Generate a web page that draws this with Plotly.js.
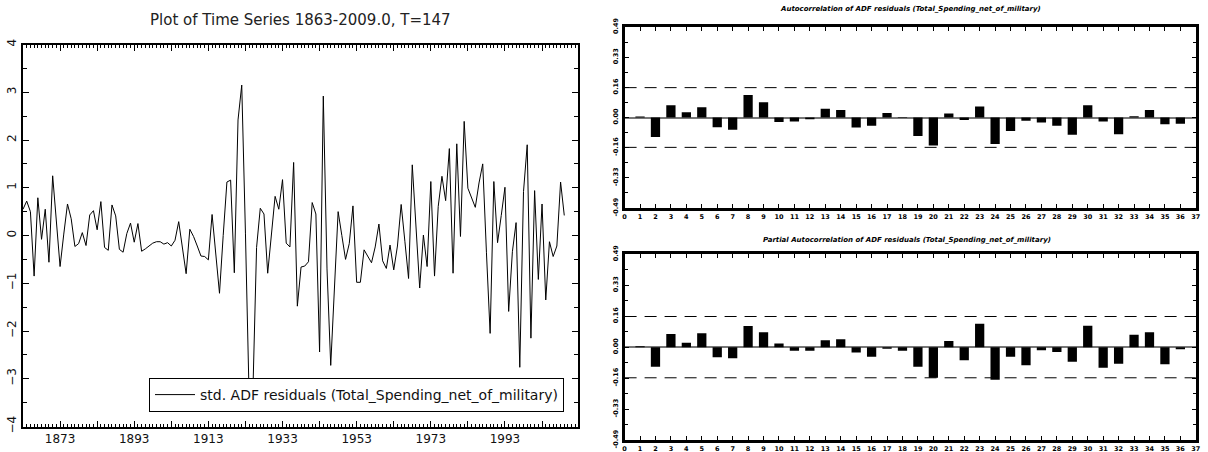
<!DOCTYPE html>
<html>
<head>
<meta charset="utf-8">
<script src="https://cdn.plot.ly/plotly-3.0.1.min.js"></script>
<style>html,body{margin:0;padding:0;background:#fff;}#chart{width:1208px;height:452px;}</style>
</head>
<body>
<div id="chart"></div>
<script>
const startYear = 1863;
const residuals = [
  0.55, 0.72, 0.50, -0.85, 0.79, -0.08, 0.55, -0.56, 1.25, 0.25,
  -0.65, 0.03, 0.66, 0.35, -0.23, -0.17, 0.06, -0.21, 0.43, 0.52,
  0.12, 0.71, -0.25, -0.31, 0.64, 0.41, -0.29, -0.35, 0.04, 0.26,
  -0.14, 0.25, -0.33, -0.28, -0.22, -0.16, -0.13, -0.13, -0.18, -0.15,
  -0.22, -0.10, 0.29, -0.25, -0.80, 0.13, -0.02, -0.22, -0.43, -0.44,
  -0.51, 0.44, -0.39, -1.21, 0.00, 1.12, 1.16, -0.78, 2.42, 3.15,
  0.05, -3.40, -3.30, -0.25, 0.57, 0.45, -0.79, 0.05, 0.82, 0.55,
  1.17, -0.16, -0.24, 1.53, -1.48, -0.66, -0.64, -0.55, 0.69, 0.45,
  -2.44, 2.92, -0.70, -2.72, -1.10, 0.50, 0.00, -0.50, -0.17, 0.62,
  -0.98, -0.98, -0.30, -0.43, -0.57, -0.24, 0.24, -0.53, -0.69, -0.20,
  -0.72, -0.22, 0.65, -0.12, -0.90, 1.48, 0.05, -1.10, 0.01, -0.65,
  1.13, -0.85, 0.61, 1.24, 0.73, 1.82, -0.79, 1.92, -0.02, 2.39,
  0.99, 0.78, 0.59, 1.10, 1.50, -0.35, -2.05, 1.13, -0.15, 0.42,
  1.01, -1.59, -0.34, 0.27, -2.76, 0.92, 1.90, -2.15, 0.94, -0.92,
  0.66, -1.35, -0.13, -0.44, -0.22, 1.12, 0.42
];
const years = residuals.map((_, i) => startYear + i);

const lags = [1,2,3,4,5,6,7,8,9,10,11,12,13,14,15,16,17,18,19,20,21,22,23,24,25,26,27,28,29,30,31,32,33,34,35,36];
const acf = [0.005, -0.105, 0.067, 0.029, 0.056, -0.053, -0.067, 0.122, 0.083, -0.024,
  -0.022, -0.009, 0.047, 0.040, -0.054, -0.045, 0.024, 0.003, -0.100, -0.151,
  0.022, -0.013, 0.060, -0.143, -0.073, -0.018, -0.027, -0.045, -0.094, 0.067,
  -0.022, -0.091, 0.007, 0.040, -0.036, -0.034];
const pacf = [0.005, -0.104, 0.070, 0.023, 0.074, -0.053, -0.058, 0.111, 0.079, 0.019,
  -0.019, -0.019, 0.037, 0.042, -0.028, -0.051, -0.009, -0.019, -0.104, -0.162,
  0.033, -0.069, 0.123, -0.172, -0.051, -0.095, -0.016, -0.025, -0.077, 0.113,
  -0.109, -0.088, 0.065, 0.079, -0.090, -0.011];
const confBand = 0.1617;

const seriesName = 'std. ADF residuals (Total_Spending_net_of_military)';
const mainTitle = 'Plot of Time Series 1863-2009.0, T=147';
const acfTitle = 'Autocorrelation of ADF residuals (Total_Spending_net_of_military)';
const pacfTitle = 'Partial Autocorrelation of ADF residuals (Total_Spending_net_of_military)';

const xMajor = [1863,1873,1883,1893,1903,1913,1923,1933,1943,1953,1963,1973,1983,1993,2003];
const xMajorText = ['','1873','','1893','','1913','','1933','','1953','','1973','','1993',''];
const corrTickVals = [-0.49,-0.3267,-0.1633,0,0.1633,0.3267,0.49];
const corrTickText = ['-0.49','-0.33','-0.16','0.00','0.16','0.33','0.49'];
const lagTickVals = Array.from({length:38}, (_, i) => i);

const W = 1208, H = 452;
const px = (a, b) => [a / W, b / W];
const py = (top, bottom) => [(H - bottom) / H, (H - top) / H];

const leftFont = {family: 'DejaVu Sans', size: 12, color: '#111'};
const smallBold = {family: 'DejaVu Sans', size: 6.5, color: '#000', weight: 'bold'};

const traces = [
  {x: years, y: residuals, type: 'scatter', mode: 'lines', name: seriesName,
   line: {color: '#000', width: 1}, xaxis: 'x', yaxis: 'y', showlegend: true},
  {x: lags, y: acf, type: 'bar', width: 0.6, marker: {color: '#000'},
   xaxis: 'x2', yaxis: 'y2', showlegend: false},
  {x: lags, y: pacf, type: 'bar', width: 0.6, marker: {color: '#000'},
   xaxis: 'x3', yaxis: 'y3', showlegend: false}
];

function corrX(anchor) {
  return {domain: px(624.6, 1195.8), anchor: anchor, range: [0, 37],
    tickmode: 'array', tickvals: lagTickVals, ticktext: lagTickVals.map(String),
    ticks: 'inside', ticklen: 4, tickwidth: 1, tickcolor: '#000',
    showline: true, linewidth: 3, linecolor: '#000', mirror: 'allticks',
    showgrid: false, zeroline: false, tickfont: smallBold, ticklabelstandoff: 0};
}
function corrY(anchor, dom) {
  return {domain: dom, anchor: anchor, range: [-0.49, 0.49],
    tickmode: 'array', tickvals: corrTickVals, ticktext: corrTickText, tickangle: -90,
    ticks: 'inside', ticklen: 4, tickwidth: 1, tickcolor: '#000',
    minor: {tickmode: 'linear', tick0: 0, dtick: 0.49/6, ticks: 'inside', ticklen: 3, tickcolor: '#000'},
    showline: true, linewidth: 3, linecolor: '#000', mirror: 'allticks',
    showgrid: false, zeroline: true, zerolinecolor: '#777', zerolinewidth: 2,
    tickfont: smallBold, ticklabelstandoff: 1};
}

const layout = {
  width: W, height: H,
  margin: {l: 0, r: 0, t: 0, b: 0},
  paper_bgcolor: '#fff', plot_bgcolor: '#fff',
  showlegend: true,
  legend: {x: 564/W, xanchor: 'right', y: (H-412)/H, yanchor: 'bottom',
    bordercolor: '#000', borderwidth: 1, bgcolor: '#fff', itemwidth: 40,
    font: {family: 'DejaVu Sans', size: 14, color: '#111'}},
  xaxis: {domain: px(23, 578), anchor: 'y', range: [1863, 2012.7],
    tickmode: 'array', tickvals: xMajor, ticktext: xMajorText,
    ticks: 'inside', ticklen: 6, tickwidth: 1, tickcolor: '#000',
    minor: {tickmode: 'linear', tick0: 1863, dtick: 1, ticks: 'inside', ticklen: 3, tickcolor: '#000'},
    showline: true, linewidth: 2, linecolor: '#000', mirror: 'allticks',
    showgrid: false, zeroline: false, tickfont: leftFont},
  yaxis: {domain: py(44.5, 426.5), anchor: 'x', range: [-4, 4],
    tickmode: 'linear', tick0: 0, dtick: 1, tickangle: -90,
    ticks: 'inside', ticklen: 6, tickwidth: 1, tickcolor: '#000',
    minor: {tickmode: 'linear', tick0: 0, dtick: 0.5, ticks: 'inside', ticklen: 4, tickcolor: '#000'},
    showline: true, linewidth: 2, linecolor: '#000', mirror: 'allticks',
    showgrid: false, zeroline: false, tickfont: leftFont},
  xaxis2: corrX('y2'),
  yaxis2: corrY('x2', py(27, 208)),
  xaxis3: corrX('y3'),
  yaxis3: corrY('x3', py(254.3, 440)),
  shapes: [
    {type: 'line', xref: 'x2 domain', yref: 'y2', x0: 0, x1: 1, y0: confBand, y1: confBand, line: {color: '#000', width: 1, dash: '12px,8px'}},
    {type: 'line', xref: 'x2 domain', yref: 'y2', x0: 0, x1: 1, y0: -confBand, y1: -confBand, line: {color: '#000', width: 1, dash: '12px,8px'}},
    {type: 'line', xref: 'x3 domain', yref: 'y3', x0: 0, x1: 1, y0: confBand, y1: confBand, line: {color: '#000', width: 1, dash: '12px,8px'}},
    {type: 'line', xref: 'x3 domain', yref: 'y3', x0: 0, x1: 1, y0: -confBand, y1: -confBand, line: {color: '#000', width: 1, dash: '12px,8px'}}
  ],
  annotations: [
    {text: mainTitle, xref: 'paper', yref: 'paper', x: 300/W, y: (H-20)/H, xanchor: 'center', yanchor: 'middle',
     showarrow: false, font: {family: 'DejaVu Sans', size: 15, color: '#222'}},
    {text: acfTitle, xref: 'paper', yref: 'paper', x: 910/W, y: (H-9)/H, xanchor: 'center', yanchor: 'middle',
     showarrow: false, font: {family: 'DejaVu Sans', size: 7, color: '#000', weight: 'bold', style: 'italic'}},
    {text: pacfTitle, xref: 'paper', yref: 'paper', x: 907/W, y: (H-240)/H, xanchor: 'center', yanchor: 'middle',
     showarrow: false, font: {family: 'DejaVu Sans', size: 7, color: '#000', weight: 'bold', style: 'italic'}}
  ]
};

Plotly.newPlot('chart', traces, layout, {displayModeBar: false, staticPlot: true});
</script>
</body>
</html>
